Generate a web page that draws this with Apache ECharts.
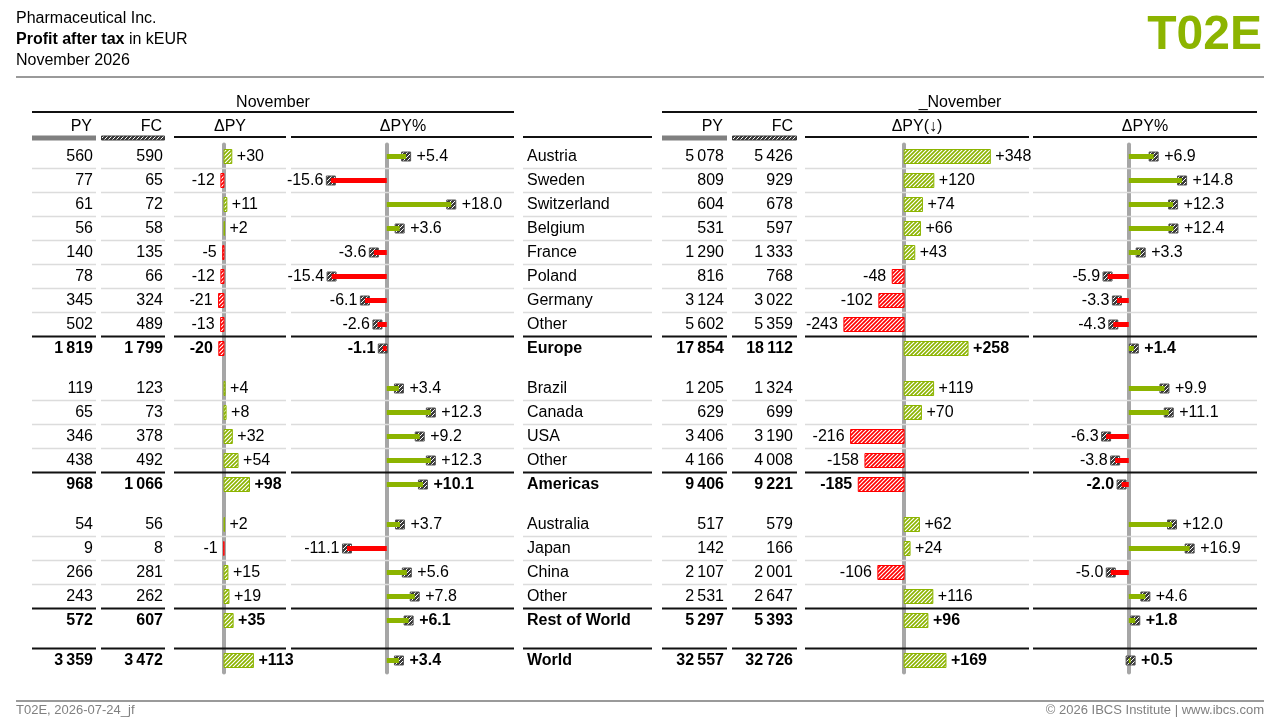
<!DOCTYPE html>
<html>
<head>
<meta charset="utf-8">
<script src="https://cdn.jsdelivr.net/npm/echarts@6.0.0/dist/echarts.min.js"></script>
<style>
html, body { margin: 0; padding: 0; background: #fff; }
#main { width: 1280px; height: 720px; }
</style>
</head>
<body>
<div id="main"></div>
<script>
// rows of the table
var labels = ['Austria', 'Sweden', 'Switzerland', 'Belgium', 'France', 'Poland', 'Germany', 'Other', 'Europe',
    'Brazil', 'Canada', 'USA', 'Other', 'Americas',
    'Australia', 'Japan', 'China', 'Other', 'Rest of World',
    'World'];
var totalRow = [0, 0, 0, 0, 0, 0, 0, 0, 1, 0, 0, 0, 0, 1, 0, 0, 0, 0, 1, 1];
var gapBefore = [9, 14, 19];

// November
var pyMonth = [560, 77, 61, 56, 140, 78, 345, 502, 1819, 119, 65, 346, 438, 968, 54, 9, 266, 243, 572, 3359];
var fcMonth = [590, 65, 72, 58, 135, 66, 324, 489, 1799, 123, 73, 378, 492, 1066, 56, 8, 281, 262, 607, 3472];
var dMonth = [30, -12, 11, 2, -5, -12, -21, -13, -20, 4, 8, 32, 54, 98, 2, -1, 15, 19, 35, 113];
var dpMonth = [5.4, -15.6, 18.0, 3.6, -3.6, -15.4, -6.1, -2.6, -1.1, 3.4, 12.3, 9.2, 12.3, 10.1, 3.7, -11.1, 5.6, 7.8, 6.1, 3.4];

// _November
var pyYtd = [5078, 809, 604, 531, 1290, 816, 3124, 5602, 17854, 1205, 629, 3406, 4166, 9406, 517, 142, 2107, 2531, 5297, 32557];
var fcYtd = [5426, 929, 678, 597, 1333, 768, 3022, 5359, 18112, 1324, 699, 3190, 4008, 9221, 579, 166, 2001, 2647, 5393, 32726];
var dYtd = [348, 120, 74, 66, 43, -48, -102, -243, 258, 119, 70, -216, -158, -185, 62, 24, -106, 116, 96, 169];
var dpYtd = [6.9, 14.8, 12.3, 12.4, 3.3, -5.9, -3.3, -4.3, 1.4, 9.9, 11.1, -6.3, -3.8, -2.0, 12.0, 16.9, -5.0, 4.6, 1.8, 0.5];

var GREEN = '#8cb400', RED = '#ff0000', AXIS = '#a6a6a6', DARK = '#3a3a3a';
var FONT = "'Liberation Sans', Arial, Helvetica, sans-serif";

// row centres on the shared vertical axis (one unit = one row)
var rowPos = [];
(function () {
    var p = 0;
    for (var i = 0; i < labels.length; i++) {
        if (gapBefore.indexOf(i) >= 0) p += 2 / 3;
        rowPos.push(p + 0.5);
        p += 1;
    }
})();

function fmtInt(n) {
    return String(n).replace(/\B(?=(\d{3})+(?!\d))/g, '\u2009');
}
function fmtD(n) {
    return (n > 0 ? '+' : '') + n;
}
function fmtP(n) {
    return (n > 0 ? '+' : '') + n.toFixed(1);
}

function hatch(bg, fg, lw) {
    var c = document.createElement('canvas');
    c.width = 4;
    c.height = 4;
    var g = c.getContext('2d');
    g.fillStyle = bg;
    g.fillRect(0, 0, 4, 4);
    g.strokeStyle = fg;
    g.lineWidth = lw;
    g.beginPath();
    g.moveTo(0, 4); g.lineTo(4, 0);
    g.moveTo(-1, 1); g.lineTo(1, -1);
    g.moveTo(3, 5); g.lineTo(5, 3);
    g.stroke();
    return { image: c, repeat: 'repeat' };
}
var greenHatch = hatch(GREEN, '#fff', 1.2);
var redHatch = hatch(RED, '#fff', 1.2);
var darkHatch = hatch(DARK, '#fff', 1.0);

function fontOf(i) {
    return (totalRow[i] ? 'bold ' : '') + '16px ' + FONT;
}

// horizontal extents of the table columns
var segs = [[32, 96], [101, 165], [174, 286], [291, 514], [523, 652], [662, 727], [732, 797], [805, 1029], [1033, 1257]];

function rowItem(params, api) {
    var i = api.value(0), p = api.value(1);
    var yc = api.coord([0, p])[1] + 0.5;
    var f = fontOf(i);
    var kids = [];
    function txt(s, x, al) {
        kids.push({
            type: 'text',
            style: { text: s, x: api.coord([x, p])[0], y: yc, align: al, verticalAlign: 'middle', font: f, fill: '#000' }
        });
    }
    txt(fmtInt(pyMonth[i]), 93, 'right');
    txt(fmtInt(fcMonth[i]), 163, 'right');
    txt(labels[i], 527, 'left');
    txt(fmtInt(pyYtd[i]), 724, 'right');
    txt(fmtInt(fcYtd[i]), 793, 'right');

    var ly = null, lw = 1, lc = '#dcdcdc';
    if (totalRow[i]) {
        ly = api.coord([0, p - 0.5])[1];
        lw = 2;
        lc = '#111';
    } else if (i + 1 < labels.length && !totalRow[i + 1]) {
        ly = api.coord([0, p + 0.5])[1];
        lw = 1.5;
    }
    if (ly !== null) {
        segs.forEach(function (s) {
            kids.push({
                type: 'line',
                shape: { x1: api.coord([s[0], p])[0], y1: ly, x2: api.coord([s[1], p])[0], y2: ly },
                style: { stroke: lc, lineWidth: lw }
            });
        });
    }
    return { type: 'group', children: kids };
}

function barItem(params, api) {
    var v = api.value(0), p = api.value(1), i = api.value(2);
    var z = api.coord([0, p]), e = api.coord([v, p]);
    var h = 14, up = v >= 0;
    return {
        type: 'group',
        children: [{
            type: 'rect',
            shape: { x: Math.min(z[0], e[0]), y: z[1] - h / 2, width: Math.abs(e[0] - z[0]), height: h },
            style: { fill: up ? greenHatch : redHatch, stroke: up ? GREEN : RED, lineWidth: 1 }
        }, {
            type: 'text',
            style: {
                text: fmtD(v), x: up ? e[0] + 5 : e[0] - 6, y: z[1] + 0.5,
                align: up ? 'left' : 'right', verticalAlign: 'middle', font: fontOf(i), fill: '#000'
            }
        }]
    };
}

function pinItem(params, api) {
    var v = api.value(0), p = api.value(1), i = api.value(2);
    var z = api.coord([0, p]), e = api.coord([v, p]);
    var m = 9, up = v >= 0;
    return {
        type: 'group',
        children: [{
            type: 'rect',
            shape: { x: e[0] - m / 2, y: z[1] - m / 2, width: m, height: m },
            style: { fill: darkHatch, stroke: '#555', lineWidth: 1 }
        }, {
            type: 'rect',
            shape: { x: Math.min(z[0], e[0]), y: z[1] - 2.5, width: Math.abs(e[0] - z[0]), height: 5 },
            style: { fill: up ? GREEN : RED }
        }, {
            type: 'text',
            style: {
                text: fmtP(v), x: up ? e[0] + m / 2 + 6 : e[0] - m / 2 - 3, y: z[1] + 0.5,
                align: up ? 'left' : 'right', verticalAlign: 'middle', font: fontOf(i), fill: '#000'
            }
        }]
    };
}

function rows(vals) {
    return vals.map(function (v, i) { return [v, rowPos[i], i]; });
}

var TOP = 144.5, H = 528;
function grid(left, width) {
    return { left: left, width: width, top: TOP, height: H, outerBoundsMode: 'none' };
}
function valX(idx, min, max) {
    return { type: 'value', gridIndex: idx, min: min, max: max, show: false };
}
function rowY(idx, axisShown) {
    return {
        type: 'value', gridIndex: idx, inverse: true, min: 0, max: 22,
        axisLabel: { show: false }, axisTick: { show: false }, splitLine: { show: false },
        axisLine: { show: axisShown, onZero: true, lineStyle: { color: AXIS, width: 4 } }
    };
}

function t(s, x, y, al, font, fill) {
    return {
        type: 'text',
        style: { text: s, x: x, y: y, align: al, verticalAlign: 'middle', font: font || ('16px ' + FONT), fill: fill || '#000' }
    };
}
function hl(x1, x2, y, w, c) {
    return { type: 'line', shape: { x1: x1, y1: y, x2: x2, y2: y }, style: { stroke: c, lineWidth: w } };
}

var chart = echarts.init(document.getElementById('main'));

var option = {
    animation: false,
    backgroundColor: '#fff',
    grid: [grid(0, 1280), grid(172, 110), grid(290, 224), grid(805, 222), grid(1033, 224)],
    xAxis: [valX(0, 0, 1280), valX(1, -200, 223), valX(2, -27, 35.5), valX(3, -400, 496), valX(4, -26.6, 35.6)],
    yAxis: [rowY(0, false), rowY(1, true), rowY(2, true), rowY(3, true), rowY(4, true)],
    graphic: [
        t('Pharmaceutical Inc.', 16, 19),
        {
            type: 'text',
            style: {
                text: '{b|Profit after tax} in kEUR', x: 16, y: 40, align: 'left', verticalAlign: 'middle',
                font: '16px ' + FONT, fill: '#000', rich: { b: { font: 'bold 16px ' + FONT, fill: '#000' } }
            }
        },
        t('November 2026', 16, 61),
        t('T02E', 1262, 35.5, 'right', 'bold 48px ' + FONT, GREEN),
        hl(16, 1264, 77, 2, '#9a9a9a'),

        t('November', 273, 103, 'center'),
        hl(32, 514, 112, 2, '#111'),
        t('_November', 960, 103, 'center'),
        hl(662, 1257, 112, 2, '#111'),

        t('PY', 92, 127, 'right'),
        t('FC', 162, 127, 'right'),
        t('ΔPY', 230, 127, 'center'),
        t('ΔPY%', 403, 127, 'center'),
        t('PY', 723, 127, 'right'),
        t('FC', 793, 127, 'right'),
        t('ΔPY(↓)', 917, 127, 'center'),
        t('ΔPY%', 1145, 127, 'center'),

        { type: 'rect', shape: { x: 32, y: 135.5, width: 64, height: 5 }, style: { fill: '#808080' } },
        { type: 'rect', shape: { x: 101.5, y: 136, width: 63, height: 4 }, style: { fill: darkHatch, stroke: DARK, lineWidth: 1 } },
        { type: 'rect', shape: { x: 662, y: 135.5, width: 65, height: 5 }, style: { fill: '#808080' } },
        { type: 'rect', shape: { x: 732.5, y: 136, width: 64, height: 4 }, style: { fill: darkHatch, stroke: DARK, lineWidth: 1 } },
        hl(174, 286, 137, 2, '#111'),
        hl(291, 514, 137, 2, '#111'),
        hl(523, 652, 137, 2, '#111'),
        hl(805, 1029, 137, 2, '#111'),
        hl(1033, 1257, 137, 2, '#111'),

        hl(16, 1264, 701, 2, '#9a9a9a'),
        t('T02E, 2026-07-24_jf', 16, 710.5, 'left', '13px ' + FONT, '#808080'),
        t('© 2026 IBCS Institute | www.ibcs.com', 1264, 710.5, 'right', '13px ' + FONT, '#808080')
    ],
    series: [
        { type: 'custom', xAxisIndex: 0, yAxisIndex: 0, renderItem: rowItem,
          data: labels.map(function (l, i) { return [i, rowPos[i]]; }) },
        { type: 'custom', xAxisIndex: 1, yAxisIndex: 1, renderItem: barItem, data: rows(dMonth) },
        { type: 'custom', xAxisIndex: 2, yAxisIndex: 2, renderItem: pinItem, data: rows(dpMonth) },
        { type: 'custom', xAxisIndex: 3, yAxisIndex: 3, renderItem: barItem, data: rows(dYtd) },
        { type: 'custom', xAxisIndex: 4, yAxisIndex: 4, renderItem: pinItem, data: rows(dpYtd) }
    ]
};
chart.setOption(option);

window.addEventListener('resize', function () {
    chart.resize();
});
</script>
</body>
</html>
